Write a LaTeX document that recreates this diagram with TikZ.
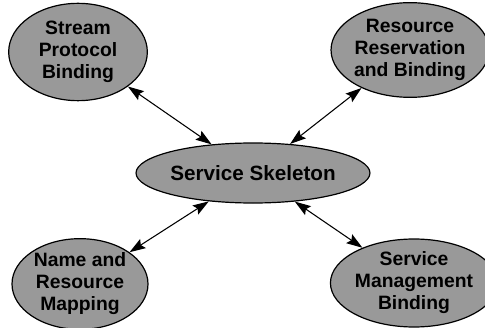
\documentclass[tikz,border=0pt]{standalone}
\usepackage{fontspec}
\setmainfont{Liberation Sans}
\usetikzlibrary{shapes.geometric,arrows.meta}
\definecolor{ellfill}{gray}{0.6}
\begin{document}
\begin{tikzpicture}[x=0.75pt,y=-0.75pt,
  bubble/.style={ellipse,draw=black,line width=0.9pt,fill=ellfill,inner sep=0pt,
    align=center,font=\fontsize{14.5}{16.5}\selectfont\bfseries},
  link/.style={{Stealth[length=12pt,width=8pt,inset=2pt]}-{Stealth[length=12pt,width=8pt,inset=2pt]},line width=0.8pt}]
\useasboundingbox (0,0) rectangle (485,328);
\node[bubble,minimum width=104pt,minimum height=73pt] (spb) at (78,52) {Stream\\Protocol\\Binding};
\node[bubble,minimum width=112pt,minimum height=71pt] (rrb) at (410,50) {Resource\\Reservation\\and Binding};
\node[bubble,minimum width=128pt,minimum height=45pt,font=\fontsize{15.5}{17}\selectfont\bfseries] (ss) at (253,173) {Service Skeleton};
\node[bubble,minimum width=102pt,minimum height=68pt] (nrm) at (80,284) {Name and\\Resource\\Mapping};
\node[bubble,minimum width=105pt,minimum height=66pt] (smb) at (414,283) {Service\\Management\\Binding};
\draw[link] (spb) -- (ss);
\draw[link] (rrb) -- (ss);
\draw[link] (nrm) -- (ss);
\draw[link] (smb) -- (ss);
\end{tikzpicture}
\end{document}
